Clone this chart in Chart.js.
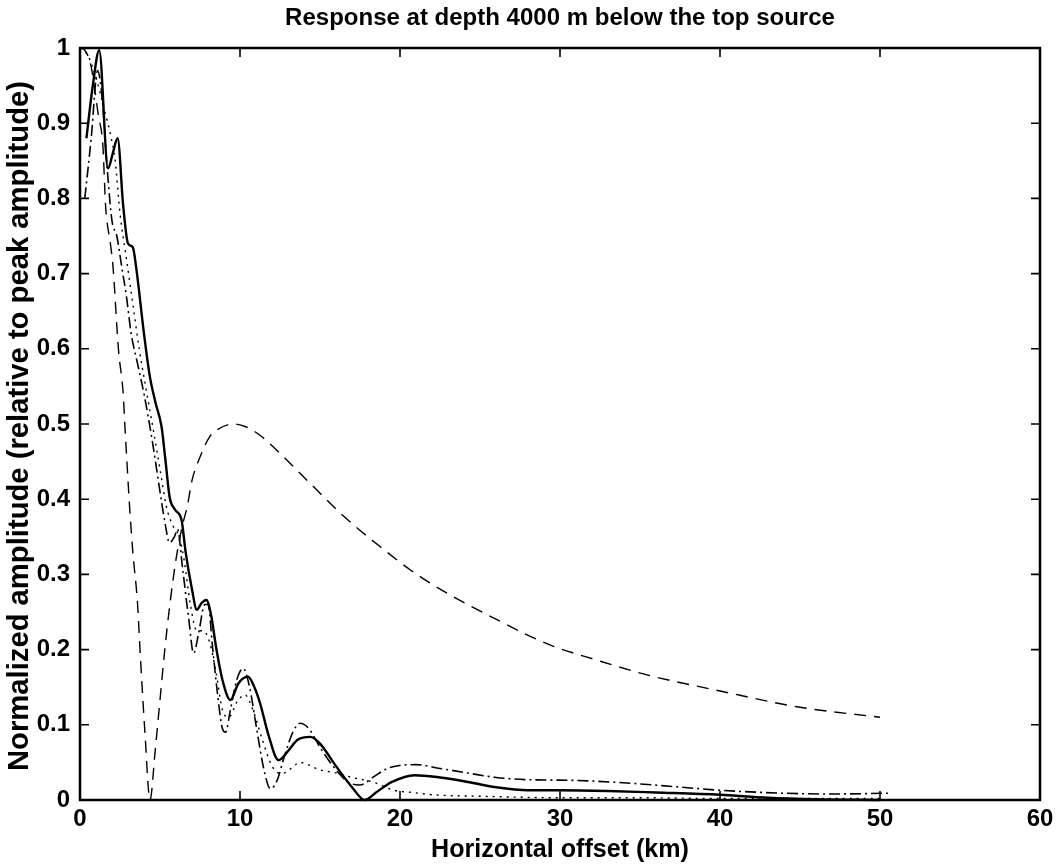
<!DOCTYPE html>
<html>
<head>
<meta charset="utf-8">
<script src="https://cdn.jsdelivr.net/npm/chart.js@4/dist/chart.umd.min.js"></script>
<style>
  html, body { margin: 0; padding: 0; background: #fff; }
  #wrap { width: 1060px; height: 867px; }
</style>
</head>
<body>
<div id="wrap"><canvas id="c" width="1060" height="867"></canvas></div>
<script>
// Horizontal offsets (km) and normalized amplitudes for each response curve
const solidOffset = [0.4,0.8,1.2,1.75,2.05,2.35,2.7,3.0,3.3,3.5,4.0,4.35,4.7,5.1,5.35,5.6,5.94,6.35,6.6,7.0,7.3,7.6,7.9,8.2,8.5,8.9,9.4,9.9,10.5,10.9,11.25,11.8,12.4,13.0,13.6,14.4,15.0,16.0,17.0,17.8,18.5,19.5,20.9,22.5,24,26,28,30,33,36,40,43,46,50];
const solidAmp    = [0.88,0.95,0.997,0.84,0.86,0.88,0.79,0.74,0.735,0.71,0.62,0.565,0.53,0.496,0.45,0.403,0.386,0.372,0.33,0.28,0.253,0.262,0.266,0.245,0.204,0.16,0.133,0.155,0.164,0.15,0.129,0.085,0.053,0.065,0.08,0.084,0.075,0.045,0.017,0.0,0.01,0.024,0.033,0.03,0.025,0.017,0.013,0.013,0.012,0.01,0.007,0.003,0.001,0.0];

const dashDotOffset = [0.3,0.7,1.1,1.4,1.7,2.0,2.3,2.6,2.9,3.2,3.6,4.0,4.5,5.0,5.3,5.6,5.9,6.1,6.4,6.8,7.1,7.4,7.8,8.0,8.3,8.6,8.9,9.1,9.4,9.8,10.2,10.6,11.0,11.5,11.9,12.3,12.8,13.3,13.75,14.3,15.0,16.0,16.9,17.5,18.3,19.2,20,21,22.5,24.2,26,28,31,34.6,37,40,44,47,50.5];
const dashDotAmp    = [0.80,0.88,0.97,0.93,0.84,0.77,0.75,0.71,0.67,0.62,0.58,0.54,0.48,0.41,0.37,0.342,0.35,0.36,0.31,0.24,0.195,0.22,0.26,0.26,0.2,0.14,0.095,0.09,0.12,0.16,0.175,0.15,0.1,0.04,0.015,0.025,0.06,0.09,0.102,0.095,0.07,0.04,0.022,0.02,0.03,0.042,0.046,0.047,0.042,0.036,0.03,0.027,0.026,0.022,0.018,0.013,0.009,0.008,0.009];

const dashedOffset = [0,0.3,0.7,1.15,1.43,1.6,1.9,2.06,2.4,2.7,2.8,3.1,3.3,3.6,3.75,4.06,4.375,4.7,5.0,5.3,5.6,6.0,6.4,6.7,7.0,7.5,8.1,8.55,9.6,10.4,11.25,12.3,14.2,16.4,18.75,21.4,26.5,29.4,32.3,35.5,40,44.8,50];
const dashedAmp    = [1.0,0.997,0.975,0.91,0.87,0.79,0.74,0.71,0.6,0.54,0.5,0.39,0.33,0.26,0.2,0.089,0.0,0.066,0.133,0.2,0.257,0.32,0.365,0.39,0.425,0.456,0.483,0.492,0.5,0.496,0.485,0.465,0.425,0.379,0.337,0.295,0.235,0.206,0.186,0.166,0.145,0.124,0.11];

const dottedOffset = [0,0.5,1.0,1.5,1.9,2.2,2.5,2.9,3.3,3.7,4.1,4.6,5.0,5.4,5.8,6.2,6.5,6.9,7.3,7.7,8.1,8.5,8.9,9.3,9.8,10.3,10.8,11.4,12.0,12.6,13.2,13.75,15,16,17,18.3,19.6,20.8,22,25,30,35,40,45,50];
const dottedAmp    = [1.0,0.99,0.96,0.92,0.885,0.85,0.78,0.72,0.66,0.6,0.55,0.49,0.44,0.39,0.365,0.35,0.32,0.26,0.225,0.225,0.21,0.17,0.12,0.11,0.13,0.14,0.12,0.08,0.045,0.035,0.042,0.05,0.04,0.036,0.03,0.024,0.013,0.01,0.007,0.005,0.003,0.003,0.002,0.002,0.002];

// Axis tick values
const xTicks = [0,10,20,30,40,50,60];
const yTicks = [0,0.1,0.2,0.3,0.4,0.5,0.6,0.7,0.8,0.9,1];

const titleText = 'Response at depth 4000 m below the top source';
const xTitle = 'Horizontal offset (km)';
const yTitle = 'Normalized amplitude (relative to peak amplitude)';

const FONT = '"Liberation Sans", Arial, Helvetica, sans-serif';

function pairs(xs, ys) { return xs.map((x, i) => ({ x: x, y: ys[i] })); }

function series(xs, ys, width, dash) {
  return {
    data: pairs(xs, ys),
    borderColor: '#000',
    borderWidth: width,
    borderDash: dash,
    pointRadius: 0,
    fill: false,
    cubicInterpolationMode: 'monotone',
    clip: 4
  };
}

// Draws a bold label whose font size is chosen so the text spans `span` pixels
function fittedText(ctx, text, cx, cy, span, angle) {
  ctx.save();
  ctx.font = 'bold 20px ' + FONT;
  const size = 20 * span / ctx.measureText(text).width;
  ctx.font = 'bold ' + size.toFixed(2) + 'px ' + FONT;
  ctx.textAlign = 'center';
  ctx.textBaseline = 'middle';
  ctx.translate(cx, cy);
  if (angle) ctx.rotate(angle);
  ctx.fillText(text, 0, 0);
  ctx.restore();
}

// Box around the plot, inward ticks on all four sides, and the text labels
const framePlugin = {
  id: 'frame',
  afterDraw(chart) {
    const { ctx, chartArea: a, scales } = chart;
    const xs = scales.x, ys = scales.y;
    ctx.save();
    ctx.strokeStyle = '#000';
    ctx.lineWidth = 2.5;
    ctx.strokeRect(a.left, a.top, a.right - a.left, a.bottom - a.top);
    ctx.lineWidth = 1.6;
    const tl = 9;
    ctx.beginPath();
    xTicks.forEach(v => {
      const px = xs.getPixelForValue(v);
      ctx.moveTo(px, a.bottom); ctx.lineTo(px, a.bottom - tl);
      ctx.moveTo(px, a.top); ctx.lineTo(px, a.top + tl);
    });
    yTicks.forEach(v => {
      const py = ys.getPixelForValue(v);
      ctx.moveTo(a.left, py); ctx.lineTo(a.left + tl, py);
      ctx.moveTo(a.right, py); ctx.lineTo(a.right - tl, py);
    });
    ctx.stroke();
    ctx.fillStyle = '#000';
    const cx = (a.left + a.right) / 2;
    fittedText(ctx, titleText, cx, 18, 550, 0);
    fittedText(ctx, xTitle, cx, 850, 258, 0);
    fittedText(ctx, yTitle, 20, (a.top + a.bottom) / 2 + 2, 690, -Math.PI / 2);
    ctx.restore();
  }
};

new Chart(document.getElementById('c'), {
  type: 'line',
  data: {
    datasets: [
      series(dottedOffset, dottedAmp, 1.4, [2, 5]),
      series(dashedOffset, dashedAmp, 1.4, [12, 8]),
      series(dashDotOffset, dashDotAmp, 1.6, [11, 4, 2, 4]),
      series(solidOffset, solidAmp, 2.4, [])
    ]
  },
  options: {
    responsive: false,
    animation: false,
    events: [],
    layout: { padding: { top: 48, right: 20, left: 0, bottom: 0 } },
    plugins: { legend: { display: false }, tooltip: { enabled: false }, title: { display: false } },
    scales: {
      x: {
        type: 'linear',
        min: 0, max: 60,
        afterBuildTicks(s) { s.ticks = xTicks.map(v => ({ value: v })); },
        afterFit(s) { s.height = 67; },
        grid: { display: false, drawTicks: false },
        border: { display: false },
        ticks: {
          color: '#000',
          padding: 5,
          maxRotation: 0,
          font: { family: FONT, size: 24, weight: 'bold' },
          callback: v => String(v)
        }
      },
      y: {
        type: 'linear',
        min: 0, max: 1,
        afterBuildTicks(s) { s.ticks = yTicks.map(v => ({ value: v })); },
        afterFit(s) { s.width = 80; },
        grid: { display: false, drawTicks: false },
        border: { display: false },
        ticks: {
          color: '#000',
          padding: 10,
          font: { family: FONT, size: 24, weight: 'bold' },
          callback: v => (v === 0 ? '0' : v === 1 ? '1' : String(Math.round(v * 10) / 10))
        }
      }
    }
  },
  plugins: [framePlugin]
});
</script>
</body>
</html>
